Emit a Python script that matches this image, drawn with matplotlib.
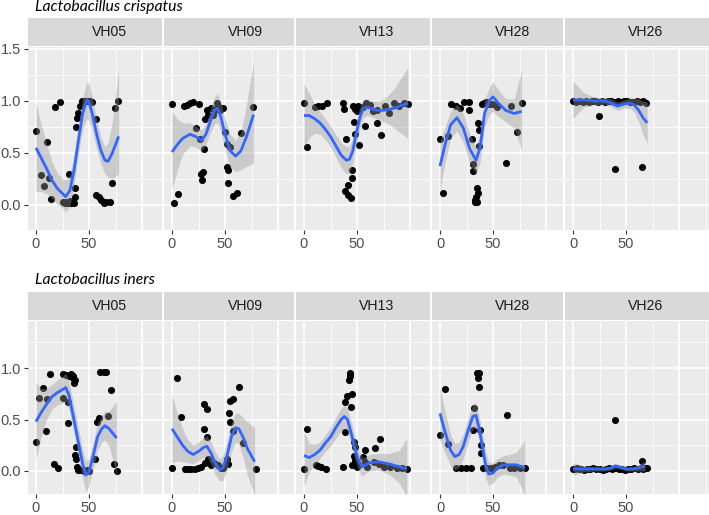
import numpy as np
import matplotlib
matplotlib.use("Agg")
import matplotlib.pyplot as plt
from matplotlib.ticker import MultipleLocator

# ---- data: Lactobacillus crispatus ----
subjects = ["VH05", "VH09", "VH13", "VH28", "VH26"]

cr05_x = [0, 4.4, 7.8, 10, 12.5, 14, 17.8, 22.5, 25.6, 27, 28.5, 30, 31, 32, 33, 36.5, 36.5, 35.5, 38, 38.5,
          40, 41.5, 43, 46, 49, 51, 53, 56.6, 57, 59.5, 61.7, 64, 66.5, 69.5, 71.9, 74.7, 77]
cr05_y = [0.71, 0.29, 0.18, 0.61, 0.26, 0.06, 0.94, 0.99, 0.03, 0.02, 0.03, 0.02, 0.30, 0.04, 0.02, 0.16, 0.08, 0.02, 0.75, 0.84,
          0.88, 0.95, 1.0, 1.0, 1.0, 1.0, 0.99, 0.83, 0.10, 0.08, 0.05, 0.02, 0.03, 0.03, 0.21, 0.93, 1.0]
cr05_fx = [0, 5, 10, 15, 20, 25, 28, 32, 36, 40, 44, 48, 50, 53, 57, 61, 65, 68, 72, 78]
cr05_fit = [0.55, 0.45, 0.35, 0.24, 0.16, 0.11, 0.08, 0.14, 0.34, 0.62, 0.88, 1.01, 0.99, 0.88, 0.69, 0.53, 0.43, 0.42, 0.50, 0.66]
cr05_hi = [0.98, 0.77, 0.59, 0.42, 0.31, 0.25, 0.24, 0.29, 0.48, 0.76, 1.03, 1.19, 1.17, 1.04, 0.83, 0.66, 0.56, 0.60, 0.80, 1.30]
cr05_lo = [0.13, 0.13, 0.11, 0.06, 0.01, -0.03, -0.07, -0.01, 0.20, 0.48, 0.73, 0.83, 0.81, 0.72, 0.55, 0.40, 0.30, 0.27, 0.25, 0.30]

cr09_x = [0, 1.6, 6, 11, 14, 17, 20, 23, 25, 26.5, 27.5, 28, 29.7, 30.6, 31, 33, 34, 36.6, 39, 40.6,
          42, 43.75, 45, 48.4, 50, 51.6, 54.7, 51.6, 52.5, 53, 57.8, 61, 64.7, 76.6]
cr09_y = [0.97, 0.02, 0.11, 0.95, 0.96, 0.98, 0.99, 0.74, 0.97, 0.63, 0.30, 0.24, 0.32, 0.54, 0.83, 0.91, 0.87, 0.93, 0.87, 0.91,
          0.98, 0.95, 0.91, 0.93, 0.70, 0.59, 0.56, 0.37, 0.34, 0.21, 0.09, 0.12, 0.69, 0.94]
cr09_fx = [0, 5, 10, 17, 22, 28, 32, 36, 40, 43, 46, 50, 55, 60, 65, 70, 77]
cr09_fit = [0.51, 0.58, 0.64, 0.68, 0.66, 0.62, 0.68, 0.80, 0.91, 0.93, 0.85, 0.68, 0.52, 0.47, 0.52, 0.65, 0.87]
cr09_hi = [0.90, 0.83, 0.79, 0.79, 0.76, 0.72, 0.78, 0.91, 1.04, 1.07, 0.99, 0.83, 0.68, 0.62, 0.70, 0.95, 1.38]
cr09_lo = [0.15, 0.33, 0.49, 0.57, 0.56, 0.52, 0.58, 0.69, 0.78, 0.79, 0.71, 0.53, 0.36, 0.32, 0.34, 0.37, 0.40]

cr13_x = [0, 2.5, 10.3, 13.4, 16.6, 21.25, 36.9, 37.5, 39.4, 46, 48, 50, 51, 52, 46.9, 48, 51.6, 45.6, 45.6,
          41.6, 39, 41.6, 44, 55.6, 58.75, 62, 65, 68.4, 57.8, 68.4, 72.8, 76, 80.6, 84.7, 90, 94, 97.8]
cr13_y = [0.98, 0.56, 0.94, 0.95, 0.95, 0.98, 0.98, 0.92, 0.63, 0.95, 0.92, 0.90, 0.95, 0.92, 0.80, 0.68, 0.58, 0.34, 0.26,
          0.19, 0.13, 0.10, 0.07, 0.94, 0.98, 0.96, 0.90, 0.91, 0.76, 0.79, 0.67, 0.95, 0.88, 0.98, 0.95, 0.98, 0.97]
cr13_fx = [0, 5, 10, 15, 20, 25, 30, 35, 40, 43, 46, 50, 53, 56, 60, 65, 70, 75, 80, 85, 90, 98]
cr13_fit = [0.86, 0.86, 0.83, 0.79, 0.73, 0.66, 0.57, 0.48, 0.43, 0.44, 0.52, 0.72, 0.85, 0.93, 0.94, 0.92, 0.91, 0.91, 0.92, 0.93, 0.95, 0.98]
cr13_hi = [1.17, 1.07, 0.97, 0.90, 0.83, 0.76, 0.68, 0.60, 0.56, 0.57, 0.64, 0.83, 0.95, 1.02, 1.02, 1.00, 1.00, 1.02, 1.06, 1.12, 1.20, 1.32]
cr13_lo = [0.55, 0.65, 0.69, 0.68, 0.63, 0.56, 0.46, 0.36, 0.30, 0.31, 0.40, 0.61, 0.75, 0.84, 0.86, 0.84, 0.82, 0.80, 0.78, 0.74, 0.70, 0.64]

cr28_x = [0, 3.1, 7.2, 10.3, 15, 18.75, 22.8, 27.5, 26.9, 30.6, 31.25, 31.25, 36.25, 37, 36.5, 35, 35.6, 34.4,
          33.4, 32.8, 35, 40, 41.5, 43.75, 46.25, 49.4, 52.5, 54, 62.5, 66.6, 72.8, 77.5]
cr28_y = [0.63, 0.12, 0.66, 0.97, 0.95, 0.93, 0.99, 0.99, 0.91, 0.63, 0.39, 0.33, 0.79, 0.72, 0.57, 0.16, 0.12, 0.08,
          0.05, 0.03, 0.03, 0.97, 0.98, 0.99, 0.97, 0.97, 0.96, 0.94, 0.40, 0.95, 0.70, 0.98]
cr28_fx = [0, 5, 10, 16, 22, 28, 34, 38, 42, 47, 50, 55, 62, 70, 77]
cr28_fit = [0.375, 0.59, 0.77, 0.84, 0.74, 0.54, 0.43, 0.56, 0.88, 1.01, 1.04, 0.98, 0.91, 0.88, 0.90]
cr28_hi = [0.62, 0.76, 0.90, 0.97, 0.88, 0.68, 0.56, 0.70, 1.01, 1.14, 1.18, 1.11, 1.02, 1.02, 1.30]
cr28_lo = [0.13, 0.42, 0.64, 0.71, 0.60, 0.40, 0.30, 0.42, 0.75, 0.88, 0.90, 0.85, 0.80, 0.74, 0.53]

cr26_x = [0, 3, 6, 9, 12, 15, 18, 21, 24, 27, 30, 33, 36, 39, 42, 45, 48, 51, 54, 57, 60, 63, 66, 69, 24.4, 39.7, 64.7]
cr26_y = [1.0, 0.99, 1.0, 0.99, 1.0, 0.99, 1.0, 1.0, 0.99, 1.0, 0.99, 1.0, 1.0, 0.99, 1.0, 0.99, 1.0, 1.0, 0.99, 0.99,
          1.0, 0.99, 1.0, 0.98, 0.86, 0.35, 0.37]
cr26_fx = [0, 10, 20, 30, 36, 42, 48, 54, 58, 62, 66, 70]
cr26_fit = [1.01, 1.01, 1.00, 1.00, 0.98, 0.95, 0.97, 0.98, 0.96, 0.91, 0.84, 0.79]
cr26_hi = [1.19, 1.08, 1.04, 1.03, 1.02, 0.99, 1.01, 1.03, 1.03, 1.02, 1.00, 0.99]
cr26_lo = [0.83, 0.94, 0.96, 0.97, 0.94, 0.91, 0.93, 0.93, 0.89, 0.80, 0.68, 0.59]

# ---- data: Lactobacillus iners ----
in05_x = [0, 3, 7, 10, 9.4, 13, 17, 21, 25, 28, 31, 33, 34.5, 37, 36, 35, 25.6, 30, 30, 37.5, 36.5, 38, 38.5,
          40, 42.5, 45.5, 48, 50, 55.6, 57.5, 59.4, 60.6, 64, 66, 67.8, 71, 74, 76]
in05_y = [0.28, 0.71, 0.81, 0.70, 0.39, 0.94, 0.07, 0.03, 0.94, 0.93, 0.92, 0.94, 0.92, 0.88, 0.85, 0.90, 0.71, 0.67, 0.47, 0.23, 0.16, 0.12, 0.04,
          0.01, 0.01, 0.0, 0.01, 0.0, 0.12, 0.48, 0.51, 0.96, 0.96, 0.96, 0.53, 0.79, 0.07, 0.0]
in05_fx = [0, 5, 10, 15, 20, 25, 28, 31, 35, 40, 44, 47, 50, 54, 58, 62, 65, 69, 76]
in05_fit = [0.48, 0.57, 0.65, 0.72, 0.76, 0.79, 0.81, 0.74, 0.54, 0.28, 0.07, -0.04, -0.01, 0.15, 0.33, 0.41, 0.44, 0.41, 0.32]
in05_hi = [0.86, 0.80, 0.80, 0.84, 0.88, 0.92, 0.95, 0.88, 0.68, 0.42, 0.21, 0.10, 0.12, 0.28, 0.46, 0.54, 0.58, 0.58, 0.68]
in05_lo = [0.11, 0.34, 0.50, 0.60, 0.64, 0.66, 0.67, 0.60, 0.40, 0.14, -0.07, -0.20, -0.14, 0.02, 0.20, 0.28, 0.30, 0.24, -0.04]

in09_x = [0, 4.6, 8.6, 12, 15, 18, 21.5, 24.5, 27.6, 30, 32.8, 30, 32.8, 31, 34, 37, 40, 43, 46, 48,
          53.7, 54.6, 58, 62.9, 55, 57.7, 52, 52.6, 66.9, 78.8]
in09_y = [0.03, 0.90, 0.52, 0.02, 0.02, 0.02, 0.02, 0.03, 0.04, 0.65, 0.60, 0.41, 0.33, 0.08, 0.12, 0.06, 0.08, 0.06, 0.03, 0.03,
          0.56, 0.68, 0.70, 0.82, 0.48, 0.39, 0.12, 0.07, 0.27, 0.02]
in09_fx = [0, 5, 10, 15, 20, 25, 30, 33, 37, 41, 45, 48, 52, 56, 60, 63, 67, 71, 78]
in09_fit = [0.41, 0.33, 0.25, 0.19, 0.16, 0.19, 0.23, 0.24, 0.17, 0.07, 0.01, 0.03, 0.15, 0.33, 0.42, 0.41, 0.33, 0.22, 0.09]
in09_hi = [0.74, 0.56, 0.41, 0.30, 0.25, 0.28, 0.33, 0.34, 0.28, 0.18, 0.12, 0.15, 0.29, 0.47, 0.56, 0.56, 0.52, 0.48, 0.42]
in09_lo = [0.08, 0.10, 0.09, 0.08, 0.07, 0.10, 0.13, 0.14, 0.06, -0.04, -0.10, -0.09, 0.01, 0.19, 0.28, 0.26, 0.14, -0.04, -0.24]

in13_x = [0, 2.5, 11, 13.5, 16.5, 21, 37, 38.4, 39, 40.6, 42.2, 43, 43.6, 43, 45.3, 44.7, 47, 48, 47, 48,
          45.6, 48.8, 50.3, 58, 56, 58, 59.4, 67, 72, 66, 71, 75, 81, 88, 92, 97]
in13_y = [0.02, 0.41, 0.06, 0.05, 0.04, 0.02, 0.04, 0.38, 0.67, 0.73, 0.88, 0.93, 0.95, 0.92, 0.75, 0.62, 0.28, 0.23, 0.15, 0.11,
          0.06, 0.06, 0.04, 0.20, 0.14, 0.09, 0.04, 0.22, 0.31, 0.09, 0.07, 0.04, 0.04, 0.03, 0.03, 0.02]
in13_fx = [0, 5, 10, 15, 20, 25, 30, 35, 38, 41, 45, 48, 51, 55, 58, 62, 70, 80, 90, 97]
in13_fit = [0.15, 0.13, 0.16, 0.20, 0.27, 0.33, 0.42, 0.50, 0.53, 0.50, 0.35, 0.22, 0.12, 0.04, 0.06, 0.08, 0.09, 0.07, 0.04, 0.02]
in13_hi = [0.38, 0.27, 0.26, 0.28, 0.35, 0.42, 0.52, 0.61, 0.64, 0.61, 0.46, 0.33, 0.22, 0.13, 0.14, 0.16, 0.17, 0.17, 0.20, 0.32]
in13_lo = [-0.15, -0.01, 0.06, 0.12, 0.19, 0.24, 0.32, 0.39, 0.42, 0.39, 0.24, 0.11, 0.02, -0.05, -0.02, 0.00, 0.01, -0.03, -0.12, -0.25]

in28_x = [0, 5, 8, 15, 19.7, 24.4, 29, 31, 32, 35, 36.5, 36, 37, 37.5, 39, 39, 41, 44, 48, 52, 56, 59, 63, 66, 70, 75, 80]
in28_y = [0.35, 0.80, 0.26, 0.03, 0.03, 0.03, 0.03, 0.40, 0.61, 0.95, 0.95, 0.90, 0.82, 0.40, 0.25, 0.17, 0.03, 0.03, 0.03,
          0.04, 0.06, 0.06, 0.54, 0.03, 0.03, 0.03, 0.03]
in28_fx = [0, 5, 10, 14, 18, 22, 27, 31, 34, 37, 40, 43, 46, 50, 54, 60, 66, 72, 80]
in28_fit = [0.56, 0.37, 0.20, 0.14, 0.16, 0.24, 0.41, 0.53, 0.54, 0.41, 0.24, 0.06, -0.03, -0.02, 0.03, 0.06, 0.06, 0.06, 0.03]
in28_hi = [0.82, 0.57, 0.35, 0.27, 0.28, 0.36, 0.53, 0.65, 0.66, 0.53, 0.37, 0.19, 0.08, 0.08, 0.12, 0.15, 0.16, 0.18, 0.30]
in28_lo = [0.30, 0.17, 0.05, 0.01, 0.04, 0.12, 0.29, 0.41, 0.42, 0.29, 0.11, -0.07, -0.14, -0.12, -0.06, -0.03, -0.04, -0.06, -0.24]

in26_x = [0, 2, 4, 6, 8, 10, 13, 16, 19, 22, 25, 28, 31, 34, 37, 40, 43, 46, 49, 52, 55, 58, 61, 64, 66, 68, 70, 39.7, 64.7]
in26_y = [0.02, 0.02, 0.03, 0.02, 0.02, 0.01, 0.02, 0.02, 0.03, 0.02, 0.02, 0.01, 0.02, 0.03, 0.02, 0.03, 0.02, 0.02, 0.01,
          0.02, 0.02, 0.03, 0.02, 0.03, 0.02, 0.03, 0.03, 0.50, 0.10]
in26_fx = [0, 10, 20, 30, 36, 40, 44, 50, 56, 62, 68]
in26_fit = [0.02, 0.02, 0.02, 0.02, 0.03, 0.05, 0.04, 0.02, 0.02, 0.03, 0.05]
in26_hi = [0.08, 0.05, 0.04, 0.04, 0.05, 0.07, 0.06, 0.04, 0.04, 0.06, 0.10]
in26_lo = [-0.04, -0.01, 0.00, 0.00, 0.01, 0.03, 0.02, 0.00, 0.00, 0.00, 0.00]

crisp = [(cr05_x, cr05_y, cr05_fx, cr05_fit, cr05_lo, cr05_hi),
         (cr09_x, cr09_y, cr09_fx, cr09_fit, cr09_lo, cr09_hi),
         (cr13_x, cr13_y, cr13_fx, cr13_fit, cr13_lo, cr13_hi),
         (cr28_x, cr28_y, cr28_fx, cr28_fit, cr28_lo, cr28_hi),
         (cr26_x, cr26_y, cr26_fx, cr26_fit, cr26_lo, cr26_hi)]
iners = [(in05_x, in05_y, in05_fx, in05_fit, in05_lo, in05_hi),
         (in09_x, in09_y, in09_fx, in09_fit, in09_lo, in09_hi),
         (in13_x, in13_y, in13_fx, in13_fit, in13_lo, in13_hi),
         (in28_x, in28_y, in28_fx, in28_fit, in28_lo, in28_hi),
         (in26_x, in26_y, in26_fx, in26_fit, in26_lo, in26_hi)]

# ---- layout (pixels) ----
W, H = 709, 515
lefts = [28, 164, 296, 432, 565]
rights = [162, 294, 430, 563, 709]
PX_PER_UNIT_X = 53 / 50.0


def box(fig, left, top, width, height):
    return fig.add_axes([left / W, 1 - (top + height) / H, width / W, height / H])


def draw_row(fig, panels, title, title_y, strip_top, panel_top, panel_bot, y0_px, px_per_unit_y, yticks):
    fig.text(35 / W, 1 - title_y / H, title, fontsize=11.3, style="italic", family="Lato",
             color="black", ha="left", va="center")
    ylim = (-(panel_bot - y0_px) / px_per_unit_y, (y0_px - panel_top) / px_per_unit_y)
    for i, (px, py, fx, fit, lo, hi) in enumerate(panels):
        w = rights[i] - lefts[i]
        # strip
        st = box(fig, lefts[i], strip_top, w, panel_top - strip_top - 1)
        st.set_facecolor("#d9d9d9")
        st.set_xticks([])
        st.set_yticks([])
        for s in st.spines.values():
            s.set_visible(False)
        st.text(81 / w, 0.5, subjects[i], transform=st.transAxes, ha="center", va="center",
                fontsize=10.2, color="#1a1a1a", family="Liberation Sans")
        # panel
        ax = box(fig, lefts[i], panel_top, w, panel_bot - panel_top)
        ax.set_facecolor("#ebebeb")
        ax.set_xlim(-8 / PX_PER_UNIT_X, (w - 8) / PX_PER_UNIT_X)
        ax.set_ylim(*ylim)
        ax.xaxis.set_major_locator(MultipleLocator(50))
        ax.xaxis.set_minor_locator(MultipleLocator(25))
        ax.yaxis.set_major_locator(MultipleLocator(0.5))
        ax.yaxis.set_minor_locator(MultipleLocator(0.25))
        ax.grid(which="major", color="white", lw=1.1)
        ax.grid(which="minor", color="white", lw=0.55)
        ax.set_axisbelow(True)
        for s in ax.spines.values():
            s.set_visible(False)
        ax.set_xticks([0, 50])
        ax.set_xticklabels(["0", "50"])
        ax.axvline(100, color="white", lw=1.1, zorder=0.5)
        ax.tick_params(axis="x", which="major", length=3, width=0.8, color="#333333",
                       labelsize=10.5, labelcolor="#4d4d4d", pad=2)
        ax.tick_params(which="minor", length=0)
        if i == 0:
            ax.set_yticks(yticks)
            ax.set_yticklabels(["%.1f" % v for v in yticks])
            ax.tick_params(axis="y", which="major", length=3, width=0.8, color="#333333",
                           labelsize=10.5, labelcolor="#4d4d4d", pad=2)
        else:
            ax.tick_params(axis="y", which="major", length=0, labelleft=False)
        for lab in ax.get_xticklabels() + ax.get_yticklabels():
            lab.set_family("Liberation Sans")
        ax.scatter(px, py, s=26, color="black", zorder=2, linewidths=0)
        ax.fill_between(fx, lo, hi, color="#999999", alpha=0.4, lw=0, zorder=3)
        ax.plot(fx, fit, color="#3366FF", lw=2.0, zorder=4, solid_capstyle="butt",
                solid_joinstyle="round")


fig = plt.figure(figsize=(W / 100, H / 100), dpi=100)
fig.patch.set_facecolor("white")

draw_row(fig, crisp, "Lactobacillus crispatus", 7, 18, 47, 230, 205, 104.0, [0.0, 0.5, 1.0, 1.5])
draw_row(fig, iners, "Lactobacillus iners", 280, 292, 321, 494, 471, 103.0, [0.0, 0.5, 1.0])

fig.savefig("out.png", dpi=100)
